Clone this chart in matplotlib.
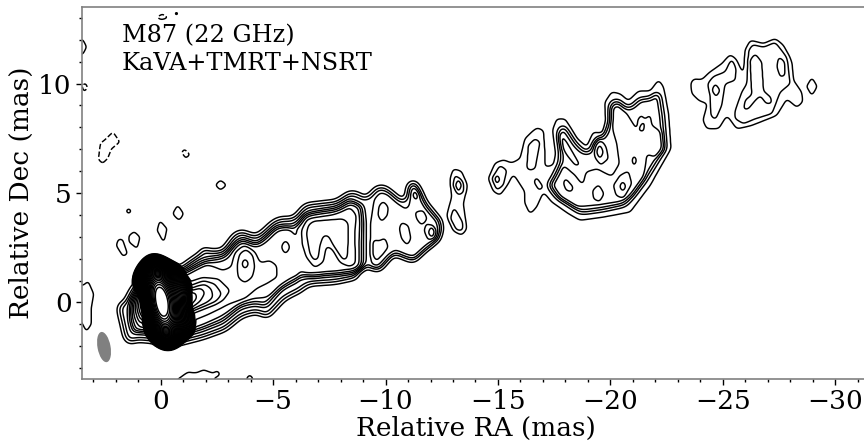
import numpy as np
import matplotlib
matplotlib.use("Agg")
import matplotlib.pyplot as plt
from matplotlib.patches import Ellipse
from matplotlib.path import Path
from matplotlib.ticker import MultipleLocator
from matplotlib.transforms import Affine2D

# contours, (RA, Dec) in mas
jet_outline = [(1.96, -0.03), (1.67, 0.07), (1.37, 0.69), (1.08, 1.04), (0.71, 1.88), (0.34, 2.11), (-0.11, 2.0),
               (-0.77, 1.65), (-1.29, 2.04), (-1.73, 2.34), (-1.88, 2.73), (-2.1, 2.47), (-2.69, 2.47), (-3.21, 3.19),
               (-3.58, 3.38), (-4.24, 3.11), (-4.98, 3.8), (-5.28, 3.95), (-5.87, 3.95), (-6.39, 4.56), (-7.05, 4.64),
               (-7.79, 4.72), (-8.38, 5.15), (-8.83, 5.07), (-9.09, 4.83), (-9.57, 5.38), (-10.01, 5.38), (-10.45, 5.02),
               (-10.82, 4.67), (-10.9, 5.41), (-11.19, 5.71), (-11.49, 5.48), (-11.86, 4.64), (-12.23, 4.18), (-12.6, 3.72),
               (-12.52, 2.96), (-12.23, 2.65), (-11.78, 2.27), (-11.27, 1.73), (-10.9, 1.88), (-10.38, 2.11), (-10.08, 1.73),
               (-9.71, 1.3), (-9.27, 1.5), (-8.9, 1.55), (-8.83, 1.04), (-7.79, 0.81), (-6.61, 0.73), (-6.24, 0.43),
               (-5.57, 0.09), (-4.76, -0.8), (-4.24, -0.54), (-3.65, -0.72), (-2.91, -1.34), (-1.88, -1.72), (-0.99, -1.95),
               (-0.25, -2.18), (0.41, -1.87), (1.15, -1.83), (1.37, -2.03), (1.67, -1.72), (1.82, -1.03), (1.96, -0.42)]
jet_inner = [(1.62, -0.1), (1.25, 0.6), (0.95, 0.95), (0.6, 1.75), (0.3, 1.95), (-0.1, 1.85), (-0.75, 1.45), (-1.3, 1.8),
             (-1.9, 2.15), (-2.7, 2.25), (-3.2, 2.95), (-3.6, 3.15), (-4.25, 2.88), (-5.0, 3.6), (-5.3, 3.72), (-5.85, 3.72),
             (-6.4, 4.33), (-7.05, 4.42), (-7.8, 4.5), (-8.38, 4.92), (-8.85, 4.75), (-9.2, 4.6), (-9.3, 3.5), (-9.3, 2.2),
             (-9.3, 1.25), (-8.75, 1.2), (-7.8, 1.02), (-6.6, 0.95), (-6.1, 0.85), (-5.55, 0.5), (-4.75, -0.5), (-4.25, -0.3),
             (-3.65, -0.45), (-2.9, -1.1), (-1.9, -1.5), (-1.0, -1.75), (-0.25, -1.95), (0.4, -1.65), (1.1, -1.6), (1.3, -1.75),
             (1.5, -1.45), (1.6, -0.9)]
base_1 = [(1.4, 0.09), (1.15, 0.55), (0.63, 1.77), (-0.26, 1.6), (-0.85, 1.39), (-1.74, 1.99), (-2.78, 2.19), (-3.3, 2.65),
          (-3.67, 2.96), (-4.26, 2.68), (-5.15, 3.47), (-5.67, 3.52), (-6.04, 2.91), (-6.26, 1.61), (-6.04, 0.93), (-5.45, 0.67),
          (-4.78, 0.24), (-4.19, 0.17), (-3.67, 0.01), (-2.93, -0.52), (-2.04, -0.98), (-1.3, -1.28), (-0.26, -1.59),
          (0.48, -1.43), (1.15, -1.28), (1.37, -0.82)]
base_2 = [(-1.29, 1.46), (-2.03, 1.77), (-2.77, 1.46), (-3.14, 1.62), (-3.29, 2.3), (-3.74, 2.65), (-4.18, 2.3), (-4.43, 1.8),
          (-4.85, 1.92), (-5.15, 1.69), (-5.18, 1.16), (-4.7, 0.85), (-4.26, 0.63), (-3.74, 0.17), (-3.07, -0.06), (-2.18, -0.52),
          (-1.29, -0.9), (0.9, -1.2), (1.25, -0.6), (1.3, 0.1), (0.9, 0.8), (-0.3, 1.3)]
base_3 = [(-1.29, 0.93), (-1.88, 1.13), (-2.55, 1.08), (-3.1, 0.55), (-2.77, 0.09), (-2.18, -0.18), (-1.29, -0.52), (0.95, -0.95),
          (1.15, -0.3), (1.1, 0.4), (0.3, 1.2)]
base_3b = [(-1.29, 0.75), (-1.9, 1.0), (-2.4, 0.85), (-2.72, 0.4), (-2.45, 0.0), (-2.05, -0.12), (-1.29, -0.45), (0.9, -0.82),
           (1.07, -0.25), (1.0, 0.4), (0.25, 1.1)]
base_4 = [(-1.29, 0.58), (-1.96, 0.85), (-2.25, 0.62), (-2.33, 0.24), (-2.03, -0.06), (-1.29, -0.37), (0.85, -0.7), (1.0, -0.2),
          (0.9, 0.4), (0.2, 1.0)]
base_4b = [(-1.25, 0.54), (-1.75, 0.7), (-1.98, 0.45), (-1.75, 0.05), (-1.25, -0.33), (0.8, -0.6), (0.92, -0.15), (0.82, 0.35), (0.15, 0.92)]
base_5 = [(-1.2, 0.5), (-1.55, 0.45), (-1.62, 0.2), (-1.4, -0.1), (-1.1, -0.3), (0.75, -0.5), (0.85, -0.1), (0.75, 0.3), (0.1, 0.85)]
ring_a = [(-3.4, 1.69), (-3.51, 2.23), (-3.81, 2.45), (-4.11, 2.15), (-4.18, 1.62), (-4.08, 1.16), (-3.74, 0.88), (-3.44, 1.13)]
ring_a_in = [(-3.74, 2.07), (-3.93, 1.77), (-3.74, 1.46), (-3.59, 1.77)]
ring_b = [(-5.55, 2.91), (-5.76, 2.53), (-5.55, 2.15), (-5.35, 2.53)]
box_1 = [(-6.04, 3.37), (-6.34, 3.98), (-7.0, 4.17), (-7.75, 4.36), (-8.41, 4.74), (-8.86, 4.36), (-8.93, 3.6), (-8.86, 2.68),
         (-8.86, 1.46), (-8.56, 1.31), (-7.45, 1.31), (-6.78, 1.13), (-6.26, 1.39), (-6.11, 2.38)]
box_2 = [(-6.26, 3.29), (-6.48, 3.82), (-7.6, 4.02), (-8.41, 4.36), (-8.71, 3.98), (-8.64, 3.29), (-8.66, 1.77), (-8.41, 1.61),
         (-7.97, 1.84), (-7.67, 2.41), (-7.37, 2.6), (-7.23, 1.84), (-6.85, 1.58), (-6.48, 2.07), (-6.29, 2.68)]
box_3 = [(-6.56, 3.52), (-6.78, 3.72), (-8.12, 3.82), (-8.34, 3.63), (-8.34, 2.83), (-8.29, 1.99), (-8.12, 1.92), (-7.75, 2.45),
         (-7.45, 3.06), (-7.23, 3.06), (-7.08, 2.6), (-7.0, 1.99), (-6.83, 1.89), (-6.63, 2.22), (-6.48, 3.14)]
mid_1 = [(-9.35, 3.7), (-9.42, 4.2), (-9.5, 4.74), (-9.75, 5.04), (-10.12, 4.97), (-10.57, 4.51), (-10.91, 4.24), (-11.06, 4.43),
         (-11.06, 5.12), (-11.26, 5.4), (-11.53, 5.04), (-11.83, 4.28), (-12.27, 3.82), (-12.49, 3.37), (-12.35, 2.83), (-11.83, 2.45),
         (-11.31, 2.04), (-10.86, 2.15), (-10.42, 2.38), (-10.12, 2.0), (-9.68, 1.58), (-9.38, 1.65), (-9.35, 2.07)]
mid_peaks = [
    [(-9.9, 4.63), (-10.12, 4.36), (-10.08, 3.98), (-9.82, 3.67), (-9.66, 3.98), (-9.71, 4.43)],
    [(-9.42, 2.76), (-9.5, 2.86), (-9.72, 2.8), (-9.97, 2.96), (-10.12, 2.53), (-9.9, 2.22), (-9.6, 1.89), (-9.42, 2.15)],
    [(-10.71, 3.67), (-11.01, 3.52), (-11.13, 2.91), (-10.97, 2.6), (-10.71, 2.91), (-10.61, 3.37)],
    [(-11.31, 5.2), (-11.5, 4.89), (-11.38, 4.63), (-11.17, 4.89)],
    [(-11.31, 4.13), (-11.68, 4.21), (-11.86, 3.82), (-11.6, 3.52), (-11.38, 3.82)],
    [(-11.83, 3.63), (-12.27, 3.32), (-12.24, 2.91), (-11.9, 2.83), (-11.71, 3.29)],
]
mid_top = [(-12.05, 3.57), (-12.21, 3.22), (-12.09, 2.91), (-11.89, 3.17)]
knot_13 = [(-13.01, 6.11), (-13.38, 6.0), (-13.64, 5.35), (-13.46, 4.51), (-13.61, 3.37), (-13.38, 3.06), (-13.01, 3.29), (-12.72, 3.98),
           (-12.94, 4.82), (-12.87, 5.65)]
knot_13_a = [(-13.09, 5.85), (-13.46, 5.5), (-13.49, 5.04), (-13.24, 4.89), (-12.98, 5.35)]
knot_13_b = [(-13.24, 5.65), (-13.4, 5.35), (-13.24, 5.04), (-13.09, 5.35)]
knot_13_c = [(-13.04, 4.36), (-13.43, 3.67), (-13.43, 3.29), (-13.16, 3.29), (-12.87, 3.82)]
far_outline = [(-14.57, 5.66), (-14.87, 6.37), (-15.24, 6.52), (-15.61, 6.37), (-15.98, 6.57), (-16.2, 7.49), (-16.72, 7.99), (-17.02, 7.87),
               (-17.09, 6.8), (-17.09, 6.19), (-17.46, 6.27), (-17.58, 6.8), (-17.43, 7.87), (-17.61, 8.4), (-17.98, 8.4), (-18.5, 7.49),
               (-18.95, 7.1), (-19.24, 7.79), (-19.69, 7.71), (-19.81, 8.32), (-19.76, 9.16), (-20.06, 9.62), (-20.43, 9.54), (-20.8, 9.21),
               (-21.25, 9.66), (-21.77, 9.66), (-22.14, 10.18), (-22.36, 9.85), (-22.58, 8.63), (-22.69, 7.03), (-22.14, 6.04), (-21.77, 5.35),
               (-21.32, 4.74), (-20.88, 4.13), (-19.69, 3.9), (-18.65, 3.75), (-18.13, 4.06), (-17.39, 4.59), (-17.02, 5.05), (-16.72, 4.36),
               (-16.43, 4.03), (-16.2, 4.51), (-16.2, 5.05), (-15.68, 5.88), (-15.46, 5.43), (-15.09, 4.89), (-14.79, 5.09)]
far_body = [(-17.58, 7.79), (-17.76, 8.2), (-17.98, 8.17), (-18.58, 7.23), (-18.98, 6.88), (-19.32, 7.64), (-19.57, 7.56), (-19.87, 8.2),
            (-19.87, 9.01), (-20.1, 9.36), (-20.43, 9.31), (-20.8, 8.93), (-21.29, 9.42), (-21.77, 9.42), (-22.09, 9.82), (-22.28, 9.54),
            (-22.43, 8.48), (-22.54, 7.03), (-22.03, 6.19), (-21.62, 5.5), (-21.17, 4.89), (-20.73, 4.36), (-19.69, 4.13), (-18.65, 3.98),
            (-18.21, 4.28), (-17.54, 4.74), (-17.09, 5.35), (-17.39, 5.81), (-17.69, 6.49), (-17.64, 7.1)]
far_inner = [(-17.43, 5.35), (-17.91, 6.27), (-18.43, 5.81), (-18.77, 5.35), (-18.92, 5.96), (-19.39, 6.11), (-20.06, 5.76), (-20.4, 6.34),
             (-20.28, 7.26), (-20.02, 8.17), (-20.06, 8.9), (-20.36, 9.01), (-20.73, 8.63), (-21.17, 7.9), (-21.54, 8.35), (-21.77, 8.63),
             (-21.84, 8.09), (-22.28, 7.79), (-22.39, 6.95), (-21.99, 6.62), (-21.62, 6.8), (-21.5, 5.73), (-20.95, 4.89), (-20.43, 4.59),
             (-19.39, 4.44), (-18.5, 4.36), (-17.76, 4.74)]
far_peaks = [
    [(-17.98, 5.7), (-18.35, 5.27), (-18.28, 5.05), (-18.03, 5.12), (-17.91, 5.43)],
    [(-19.47, 5.4), (-19.72, 4.97), (-19.51, 4.59), (-19.24, 4.74), (-19.21, 5.12)],
    [(-20.8, 6.01), (-20.95, 5.43), (-20.58, 4.74), (-20.25, 4.89), (-20.13, 5.35), (-20.43, 5.81)],
    [(-21.05, 6.8), (-21.17, 6.49), (-21.05, 6.16), (-20.95, 6.49)],
    [(-21.39, 8.6), (-21.54, 8.25), (-21.47, 7.79), (-21.25, 7.87), (-21.2, 8.32)],
    [(-17.76, 7.79), (-18.06, 7.33), (-18.65, 6.27), (-18.43, 6.27), (-17.83, 7.03), (-17.69, 7.48)],
    [(-19.24, 7.18), (-19.51, 7.56), (-19.81, 7.1), (-19.91, 6.57), (-19.57, 6.27), (-19.32, 6.62)],
]
far_tops = [
    [(-20.55, 5.58), (-20.7, 5.3), (-20.55, 5.03), (-20.4, 5.3)],
    [(-19.51, 7.29), (-19.69, 6.88), (-19.54, 6.52), (-19.36, 6.88)],
]
far_lobes = [
    [(-14.72, 5.66), (-15.09, 6.27), (-15.39, 6.04), (-15.24, 5.35), (-14.94, 5.12)],
    [(-16.28, 6.11), (-16.35, 7.18), (-16.65, 7.49), (-16.87, 7.33), (-16.65, 6.11), (-16.43, 6.04)],
    [(-16.69, 5.76), (-17.02, 5.27), (-16.84, 5.09), (-16.6, 5.5)],
]
far_lobe_top = [(-14.97, 5.85), (-15.09, 5.61), (-14.94, 5.4), (-14.84, 5.66)]
end_outline = [(-23.57, 10.0), (-23.69, 10.22), (-24.06, 10.18), (-24.36, 10.48), (-24.95, 10.91), (-25.33, 11.34), (-25.62, 11.06), (-25.92, 10.37),
               (-25.99, 11.52), (-26.22, 11.98), (-26.81, 11.82), (-27.33, 12.05), (-27.7, 11.75), (-28.07, 10.98), (-28.14, 10.15), (-28.51, 9.61),
               (-28.56, 9.16), (-28.29, 8.9), (-27.85, 9.31), (-27.4, 8.55), (-26.29, 8.09), (-25.62, 7.93), (-25.18, 8.55), (-24.81, 7.93),
               (-24.29, 7.93), (-24.11, 8.32), (-24.32, 9.08), (-23.92, 9.23), (-23.62, 9.54)]
end_left = [(-24.32, 9.99), (-24.58, 10.33), (-25.1, 10.53), (-25.4, 11.18), (-25.59, 10.68), (-25.55, 10.15), (-25.1, 9.99), (-24.95, 9.0),
            (-24.66, 8.32), (-24.46, 8.55), (-24.43, 9.46)]
end_left_top = [(-24.66, 10.02), (-24.88, 9.69), (-24.7, 9.38), (-24.51, 9.69)]
end_right = [(-25.55, 8.77), (-25.84, 9.61), (-26.07, 10.0), (-26.14, 11.52), (-26.33, 11.79), (-26.81, 11.67), (-27.33, 11.9), (-27.85, 11.21),
             (-28.0, 9.99), (-27.55, 9.61), (-27.18, 8.62), (-26.44, 8.39), (-25.92, 8.16), (-25.55, 8.39)]
end_u = [(-25.92, 8.8), (-25.99, 9.23), (-26.29, 9.5), (-26.19, 11.06), (-26.44, 11.37), (-26.73, 10.98), (-26.81, 9.66), (-27.13, 9.38),
         (-27.18, 9.08), (-26.93, 9.08), (-26.66, 9.46), (-26.44, 9.23), (-26.14, 8.85)]
end_ring = [(-27.48, 11.24), (-27.77, 10.98), (-27.77, 10.37), (-27.55, 10.3), (-27.4, 10.76)]
isolated = [
    [(-28.96, 10.28), (-29.2, 9.87), (-28.96, 9.44), (-28.72, 9.87)],
    [(1.89, 2.88), (1.7, 2.88), (1.48, 2.22), (1.67, 2.1), (1.98, 2.6)],
    [(1.18, 3.25), (0.92, 2.99), (1.05, 2.45), (1.4, 2.76), (1.4, 3.06)],
    [(0.04, 3.75), (-0.28, 3.37), (-0.14, 2.72), (0.16, 3.29)],
    [(-0.75, 4.45), (-1.02, 4.05), (-0.82, 3.73), (-0.53, 4.05)],
    [(-2.67, 5.6), (-2.92, 5.36), (-2.67, 5.13), (-2.43, 5.36)],
    [(1.42, 4.32), (1.28, 4.17), (1.42, 4.03), (1.56, 4.17)],
    [(3.23, 0.97), (2.98, 0.39), (3.08, -0.21), (3.08, -0.98), (3.3, -1.33), (3.48, -0.98), (3.7, -0.6), (3.7, 0.8), (3.42, 0.78)],
    [(3.7, 12.06), (3.45, 12.0), (3.29, 11.68), (3.45, 11.35), (3.7, 11.3)],
    [(-0.73, -3.53), (-1.2, -3.19), (-1.59, -3.22), (-1.91, -3.08), (-2.48, -3.29), (-2.26, -3.8), (-0.73, -3.8)],
    [(-2.5, -3.12), (-2.65, -3.27), (-2.5, -3.42), (-2.35, -3.27)],
    [(-3.96, -3.28), (-4.12, -3.5), (-3.96, -3.72), (-3.8, -3.5)],
    [(-0.7, 13.32), (-0.82, 13.2), (-0.7, 13.08), (-0.58, 13.2)],
]
negative = [
    [(2.12, 7.79), (1.82, 7.33), (2.19, 7.02), (2.36, 6.57), (2.58, 6.35), (2.77, 6.54), (2.68, 7.26), (2.42, 7.49)],
    [(-1.05, 7.02), (-1.3, 6.75), (-1.12, 6.58), (-0.93, 6.85)],
    [(-0.07, 13.18), (-0.35, 13.02), (-0.05, 12.92), (0.2, 13.02)],
    [(3.38, 10.05), (3.25, 9.85), (3.38, 9.6), (3.5, 9.85)],
]
# core position and the broad knots around it
core_ra, core_dec = 0.0, 0.02
knot_ra = [-0.7, -1.1, 0.0, -0.5]
knot_dec = [0.15, 0.25, 1.0, -1.0]
knot_amp = [0.2, 0.12, 0.2, 0.2]
knot_sx = [0.4, 0.35, 0.7, 0.8]
knot_sy = [0.7, 0.55, 0.5, 0.5]
beam_ra, beam_dec, beam_w, beam_h = 2.52, -2.04, 0.58, 1.4

# (contour, height, smoothing, erosion threshold)
layers = [(jet_outline, 3, 0.13, 0.84), (jet_inner, 3, 0.13, 0.98)]
layers += [(p, 1, 0.1, 0) for p in [base_1, base_2, base_3, base_3b, base_4, base_4b, base_5, ring_a, ring_a_in, ring_b, box_1, box_2, box_3]]
layers += [(mid_1, 1, 0.1, 0), (mid_top, 1, 0.07, 0)] + [(p, 1, 0.08, 0) for p in mid_peaks]
layers += [(knot_13, 1, 0.09, 0), (knot_13_a, 1, 0.08, 0), (knot_13_b, 1, 0.06, 0), (knot_13_c, 1, 0.08, 0)]
layers += [(far_outline, 1, 0.09, 0), (far_body, 3, 0.12, 0.84), (far_inner, 1, 0.09, 0), (far_lobe_top, 1, 0.06, 0)]
layers += [(p, 1, 0.08, 0) for p in far_peaks + far_tops + far_lobes]
layers += [(end_outline, 1, 0.09, 0), (end_left, 1, 0.09, 0), (end_left_top, 1, 0.07, 0), (end_right, 1, 0.09, 0), (end_u, 1, 0.08, 0), (end_ring, 1, 0.08, 0)]
layers += [(p, 1, 0.07, 0) for p in isolated]

step = 0.025
ra = np.arange(-32.5, 4.2, step)
dec = np.arange(-4.2, 14.2, step)
RA, DEC = np.meshgrid(ra, dec)


def soften(img, sigma):
    fx = np.fft.fftfreq(img.shape[1], step)
    fy = np.fft.fftfreq(img.shape[0], step)
    kernel = np.exp(-2 * (np.pi * sigma) ** 2 * (fx[None, :] ** 2 + fy[:, None] ** 2))
    return np.fft.ifft2(np.fft.fft2(img) * kernel).real


def add_layer(field, pts, height, sigma, erode):
    # fill the contour and soften the edge, stacks start at the traced line and go inwards
    pts = np.array(pts)
    pad = int(5 * sigma / step) + 2
    i0 = max(np.searchsorted(ra, pts[:, 0].min()) - pad, 0)
    i1 = min(np.searchsorted(ra, pts[:, 0].max()) + pad, len(ra))
    j0 = max(np.searchsorted(dec, pts[:, 1].min()) - pad, 0)
    j1 = min(np.searchsorted(dec, pts[:, 1].max()) + pad, len(dec))
    xx, yy = RA[j0:j1, i0:i1], DEC[j0:j1, i0:i1]
    inside = Path(pts).contains_points(np.c_[xx.ravel(), yy.ravel()]).reshape(xx.shape).astype(float)
    if erode:
        inside = (soften(inside, sigma) > erode).astype(float)
    field[j0:j1, i0:i1] += height * soften(inside, sigma)


field = np.zeros(RA.shape)
for pts, height, sigma, erode in layers:
    add_layer(field, pts, height, sigma, erode)

tilt = np.radians(10)
dx, dy = RA - core_ra, DEC - core_dec
u = dx * np.cos(tilt) - dy * np.sin(tilt)
v = dx * np.sin(tilt) + dy * np.cos(tilt)
bright = np.exp(-(8.5 / 14.0) * ((u / 0.47) ** 2 + v ** 2))
for r0, d0, amp, sx, sy in zip(knot_ra, knot_dec, knot_amp, knot_sx, knot_sy):
    bright += amp * np.exp(-0.5 * (((RA - r0) / sx) ** 2 + ((DEC - d0) / sy) ** 2))
core = 40.3 + 14.0 * np.log(bright)
field = np.maximum(field, core)

neg_field = np.zeros(RA.shape)
for pts in negative:
    add_layer(neg_field, pts, 1, 0.06, 0)

fig = plt.figure(figsize=(8.64, 4.42), dpi=100)
ax = fig.add_axes([82 / 864, 63 / 442, 787 / 864, 372 / 442])
ax.contour(RA, DEC, field, levels=np.arange(0.5, 40), colors="k", linewidths=1.05, linestyles="solid")
ax.contour(RA, DEC, neg_field, levels=[0.5], colors="k", linewidths=1.05, linestyles="--")
ax.add_patch(Ellipse((beam_ra, beam_dec), beam_w, beam_h, angle=-10, color="gray", lw=0))

ax.set_xlim(3.5, -31.5)
ax.set_ylim(-3.5, 13.5)
ax.xaxis.set_major_locator(MultipleLocator(5))
ax.xaxis.set_minor_locator(MultipleLocator(1))
ax.yaxis.set_major_locator(MultipleLocator(5))
ax.yaxis.set_minor_locator(MultipleLocator(1))
ax.tick_params(which="major", labelsize=19, length=4, width=1)
ax.tick_params(which="minor", length=2.5, width=1)
for side in ax.spines:
    ax.spines[side].set_color("gray")
    ax.spines[side].set_linewidth(1.2)
for lab in ax.get_xticklabels() + ax.get_yticklabels():
    lab.set_family("DejaVu Serif")
ax.set_xlabel("Relative RA (mas)", family="DejaVu Serif", fontsize=19, labelpad=1)
ax.set_ylabel("Relative Dec (mas)", family="DejaVu Serif", fontsize=19, labelpad=3)
# text placed in image pixels
px = Affine2D().scale(1, -1).translate(0, 442)
ax.text(122, 36, "M87 (22 GHz)", family="DejaVu Serif", fontsize=17.3, va="center", transform=px)
ax.text(122, 63, "KaVA+TMRT+NSRT", family="DejaVu Serif", fontsize=17.3, va="center", transform=px)
fig.savefig("out.png", dpi=100)
